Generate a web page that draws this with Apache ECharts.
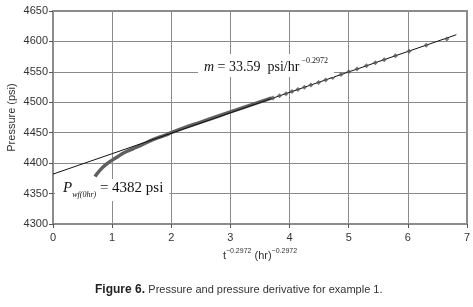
<!DOCTYPE html>
<html>
<head>
<meta charset="utf-8">
<script src="https://cdn.jsdelivr.net/npm/echarts@6/dist/echarts.min.js"></script>
<style>
  html, body { margin: 0; padding: 0; background: #fff; }
  #chart { width: 473px; height: 307px; }
</style>
</head>
<body>
<div id="chart"></div>
<script>
// early-time pressure, drawn as a thick curve (dense points)
const curveX = [0.71, 0.8, 0.9, 1.0, 1.1, 1.2, 1.35, 1.5, 1.7, 1.9, 2.0, 2.2, 2.5, 2.8, 3.1, 3.4, 3.7]
const curveY = [4378, 4389, 4398, 4405, 4411, 4417, 4423.5, 4430, 4439, 4446, 4450, 4457.5, 4467.5, 4477.5, 4487.5, 4497.5, 4507.3]

// later points, shown as separate markers
const pointX = [3.72, 3.83, 3.94, 4.04, 4.14, 4.25, 4.36, 4.49, 4.61, 4.73, 4.87, 5.00, 5.14, 5.30, 5.45, 5.60, 5.79, 6.02, 6.31, 6.66]
const pointY = [4507, 4510.6, 4514.2, 4517.6, 4521, 4524.7, 4528.4, 4532.7, 4536.8, 4540.8, 4545.5, 4550, 4554.6, 4559.9, 4565, 4570, 4576.3, 4584, 4593.6, 4604]

// straight-line fit, m = 33.59
const fitX = [0, 6.82]
const fitY = [4382, 4611]

const xTicks = [0, 1, 2, 3, 4, 5, 6, 7]
const yTicks = [4300, 4350, 4400, 4450, 4500, 4550, 4600, 4650]

const zip = (xs, ys) => xs.map((x, i) => [x, ys[i]])

const gridColor = '#8a8a8a'
const frameColor = '#8c8c8c'
const labelFont = 'Liberation Sans'
const serif = 'Liberation Serif'

const chart = echarts.init(document.getElementById('chart'))

const option = {
  animation: false,
  backgroundColor: '#fff',
  grid: {
    left: 53, right: 6, top: 11, bottom: 83,
    outerBoundsMode: 'none',
    show: true, borderColor: frameColor, borderWidth: 2
  },
  xAxis: {
    type: 'value',
    min: xTicks[0],
    max: xTicks[xTicks.length - 1],
    interval: 1,
    axisLine: { show: true, lineStyle: { color: frameColor, width: 2 } },
    axisTick: { show: true, length: 4, lineStyle: { color: '#555' } },
    axisLabel: { color: '#333', fontFamily: labelFont, fontSize: 11, margin: 8 },
    splitLine: { show: true, lineStyle: { color: gridColor, width: 1 } },
    name: '{b|t}{s|−0.2972}{b| (hr)}{s|−0.2972}',
    nameLocation: 'middle',
    nameGap: 24,
    nameMoveOverlap: false,
    nameTextStyle: {
      rich: {
        b: { fontFamily: labelFont, fontSize: 11, color: '#333', verticalAlign: 'bottom', lineHeight: 13 },
        s: { fontFamily: labelFont, fontSize: 7, color: '#333', verticalAlign: 'top', lineHeight: 8 }
      }
    }
  },
  yAxis: {
    type: 'value',
    min: yTicks[0],
    max: yTicks[yTicks.length - 1],
    interval: 50,
    axisLine: { show: true, lineStyle: { color: frameColor, width: 2 } },
    axisTick: { show: true, length: 4, lineStyle: { color: '#555' } },
    axisLabel: { color: '#333', fontFamily: labelFont, fontSize: 11, margin: 5, formatter: v => String(v) },
    splitLine: { show: true, lineStyle: { color: gridColor, width: 1 } },
    name: 'Pressure (psi)',
    nameLocation: 'middle',
    nameGap: 36,
    nameMoveOverlap: false,
    nameTextStyle: { fontFamily: labelFont, fontSize: 11, color: '#333' }
  },
  series: [
    {
      type: 'line',
      data: zip(fitX, fitY),
      showSymbol: false,
      lineStyle: { color: '#111', width: 1 },
      z: 3
    },
    {
      type: 'line',
      data: zip(curveX, curveY),
      smooth: true,
      showSymbol: false,
      lineStyle: { color: '#5f5f5f', width: 3.5 },
      z: 2
    },
    {
      type: 'scatter',
      data: zip(pointX, pointY),
      symbol: 'diamond',
      symbolSize: 5,
      itemStyle: { color: '#555' },
      z: 4
    }
  ],
  graphic: [
    {
      type: 'text',
      left: 198,
      top: 54,
      z: 100,
      style: {
        text: '{i|m}{r| = 33.59  psi/hr}{s| −0.2972}',
        backgroundColor: '#fff',
        padding: [3, 6, 3, 6],
        rich: {
          i: { fontFamily: serif, fontStyle: 'italic', fontSize: 14, fill: '#111', verticalAlign: 'bottom', lineHeight: 17 },
          r: { fontFamily: serif, fontSize: 14, fill: '#111', verticalAlign: 'bottom', lineHeight: 17 },
          s: { fontFamily: serif, fontSize: 8, fill: '#111', verticalAlign: 'top', lineHeight: 10 }
        }
      }
    },
    {
      type: 'text',
      left: 55,
      top: 179,
      z: 100,
      style: {
        text: '{p|P}{sub|wf(0hr)}{r| = 4382 psi}',
        backgroundColor: '#fff',
        padding: [2, 6, 2, 8],
        rich: {
          p: { fontFamily: serif, fontStyle: 'italic', fontSize: 15, fill: '#111', verticalAlign: 'top', lineHeight: 18 },
          sub: { fontFamily: serif, fontStyle: 'italic', fontSize: 8, fill: '#111', verticalAlign: 'bottom', lineHeight: 10 },
          r: { fontFamily: serif, fontSize: 15, fill: '#111', verticalAlign: 'top', lineHeight: 18 }
        }
      }
    },
    {
      type: 'text',
      left: 95,
      top: 284,
      style: {
        text: '{b|Figure 6.} {n|Pressure and pressure derivative for example 1.}',
        rich: {
          b: { fontFamily: labelFont, fontSize: 12, fontWeight: 'bold', fill: '#222' },
          n: { fontFamily: labelFont, fontSize: 11, fill: '#333' }
        }
      }
    }
  ]
}

chart.setOption(option)
window.addEventListener('resize', () => chart.resize())
</script>
</body>
</html>
